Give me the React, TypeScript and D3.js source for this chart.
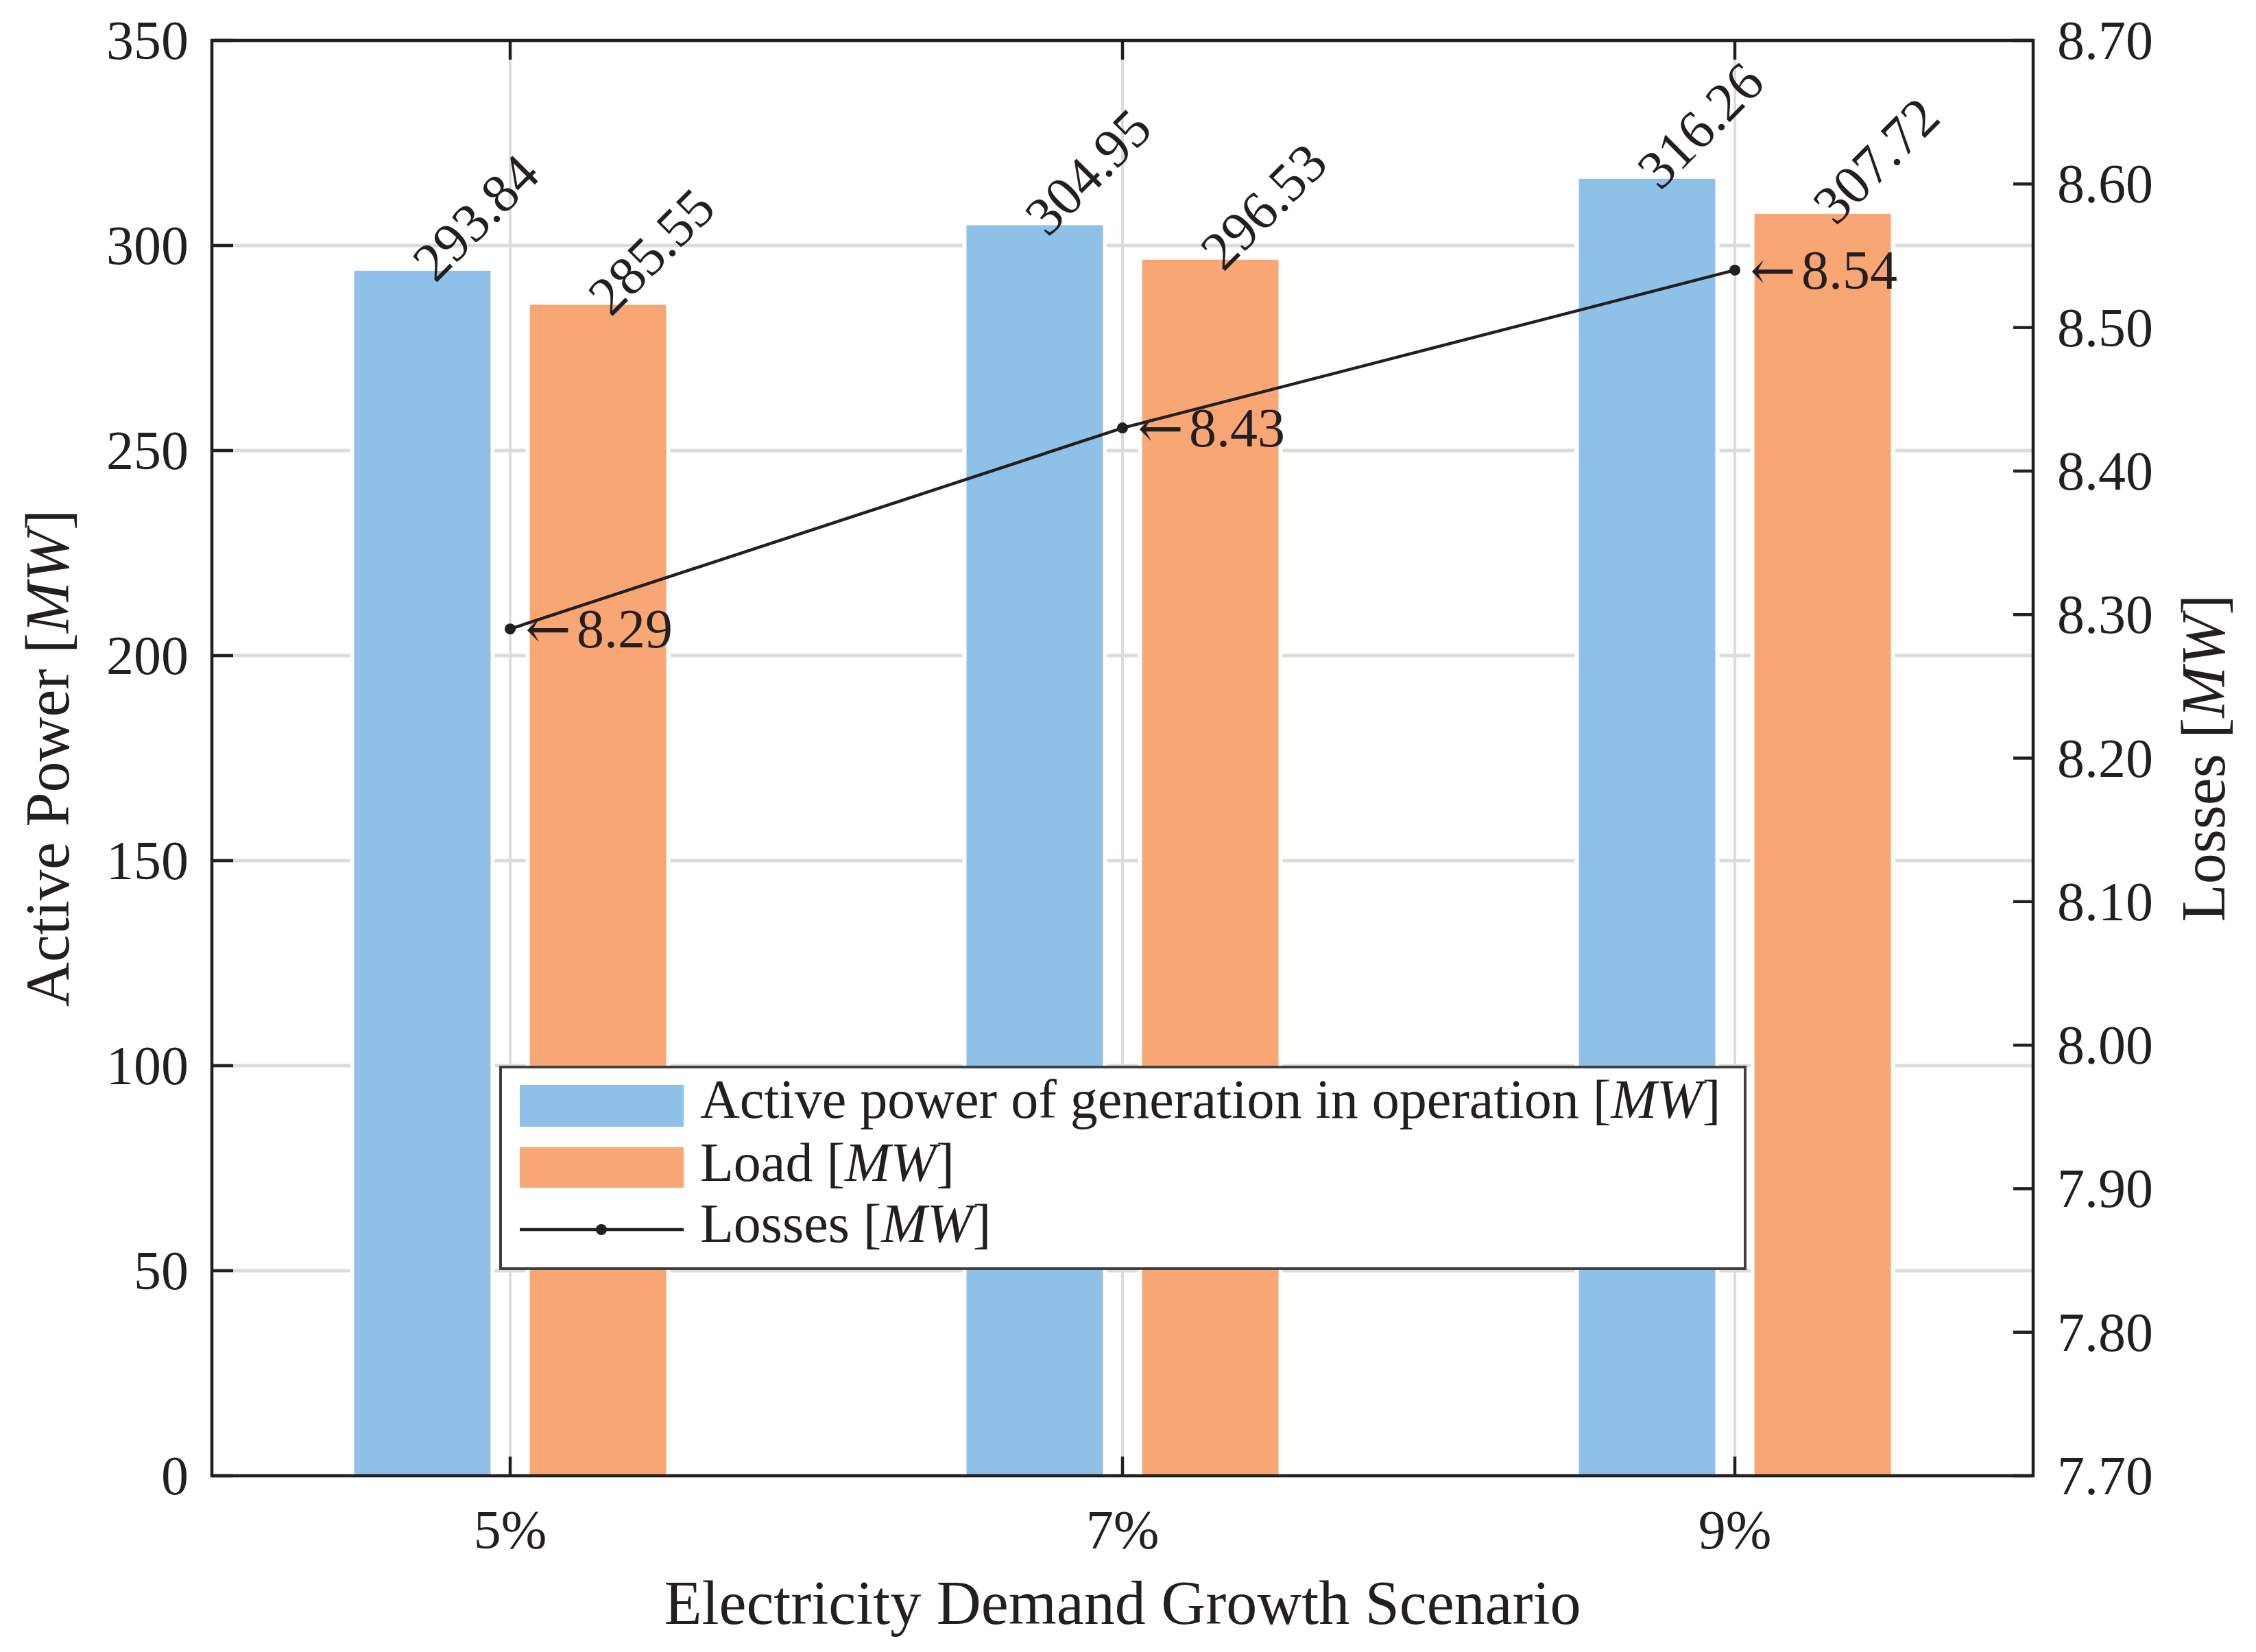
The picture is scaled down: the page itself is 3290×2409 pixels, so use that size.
import React from "react";
import * as d3 from "d3";

const categories = ["5%", "7%", "9%"];
const generation = [293.84, 304.95, 316.26];
const load = [285.55, 296.53, 307.72];
const losses = [8.29, 8.43, 8.54];
const leftTicks = [0, 50, 100, 150, 200, 250, 300, 350];
const rightTicks = [7.7, 7.8, 7.9, 8.0, 8.1, 8.2, 8.3, 8.4, 8.5, 8.6, 8.7];
const seriesNames = ["gen", "load"];
const legendLabels = ["Active power of generation in operation ", "Load ", "Losses "];

const W = 3290;
const H = 2409;
const L = 309;
const R = 2965;
const T = 59;
const B = 2152;
const FONT = "'Liberation Serif', 'Times New Roman', 'DejaVu Serif', serif";
const INK = "#231f20";
const BLUE = "#8fc1e8";
const ORANGE = "#f8a674";
const GRID = "#dcdcdc";

export default function App() {
  const x = d3.scalePoint<string>().domain(categories).range([744, 2530]);
  const sub = d3.scaleBand<string>().domain(seriesNames).range([-227.5, 227.5]).paddingInner(0.223);
  const yL = d3.scaleLinear().domain([0, 350]).range([B, T]);
  const yR = d3.scaleLinear().domain([7.7, 8.7]).range([B, T]);
  const bw = sub.bandwidth();
  const colors: Record<string, string> = { gen: BLUE, load: ORANGE };
  const vals: Record<string, number[]> = { gen: generation, load: load };

  const line = d3
    .line<number>()
    .x((_, i) => x(categories[i]) as number)
    .y((d) => yR(d));

  const halo = 6;

  return (
    <svg
      width={W}
      height={H}
      viewBox={`0 0 ${W} ${H}`}
      style={{ position: "absolute", left: 0, top: 0, background: "#fff" }}
      fontFamily={FONT}
    >
      <rect x={0} y={0} width={W} height={H} fill="#fff" />
      {/* gridlines */}
      {leftTicks.map((t) => (
        <line key={"gh" + t} x1={L} x2={R} y1={yL(t)} y2={yL(t)} stroke={GRID} strokeWidth={5} />
      ))}
      {categories.map((c) => (
        <line key={"gv" + c} x1={x(c)} x2={x(c)} y1={T} y2={B} stroke={GRID} strokeWidth={4} />
      ))}
      {/* bars */}
      {seriesNames.map((s) =>
        categories.map((c, i) => {
          const x0 = (x(c) as number) + (sub(s) as number);
          const y0 = yL(vals[s][i]);
          return (
            <g key={s + c}>
              <rect x={x0 - halo} y={y0 - halo} width={bw + 2 * halo} height={B - y0 + halo} fill="#fff" />
              <rect x={x0} y={y0} width={bw} height={B - y0} fill={colors[s]} />
            </g>
          );
        })
      )}
      {/* bar labels */}
      {seriesNames.map((s) =>
        categories.map((c, i) => {
          const cx = (x(c) as number) + (sub(s) as number) + bw / 2;
          const cy = yL(vals[s][i]);
          return (
            <text
              key={"bl" + s + c}
              transform={`translate(${cx},${cy}) rotate(-45)`}
              fontSize={80}
              fill={INK}
              dominantBaseline="central"
              textAnchor="start"
            >
              {vals[s][i].toFixed(2)}
            </text>
          );
        })
      )}
      {/* losses line */}
      <path d={line(losses) || ""} fill="none" stroke={INK} strokeWidth={4.5} />
      {losses.map((v, i) => (
        <circle key={"m" + i} cx={x(categories[i])} cy={yR(v)} r={8} fill={INK} />
      ))}
      {losses.map((v, i) => (
        <text
          key={"ll" + i}
          x={(x(categories[i]) as number) + 22}
          y={yR(v)}
          fontSize={80}
          fill={INK}
          dominantBaseline="central"
        >
          <tspan fontFamily="'DejaVu Serif', serif" fontWeight={300}>
            {"\u2190"}
          </tspan>
          <tspan dx={8}>{v.toFixed(2)}</tspan>
        </text>
      ))}
      {/* axes box */}
      <rect x={L} y={T} width={R - L} height={B - T} fill="none" stroke={INK} strokeWidth={4.5} />
      {leftTicks.map((t) => (
        <g key={"lt" + t}>
          <line x1={L} x2={L + 31} y1={yL(t)} y2={yL(t)} stroke={INK} strokeWidth={4.5} />
          <text x={275} y={yL(t)} fontSize={80} fill={INK} textAnchor="end" dominantBaseline="central">
            {t}
          </text>
        </g>
      ))}
      {rightTicks.map((t) => (
        <g key={"rt" + t}>
          <line x1={R - 29} x2={R} y1={yR(t)} y2={yR(t)} stroke={INK} strokeWidth={4.5} />
          <text x={3000} y={yR(t)} fontSize={80} fill={INK} textAnchor="start" dominantBaseline="central">
            {t.toFixed(2)}
          </text>
        </g>
      ))}
      {categories.map((c) => (
        <g key={"xt" + c}>
          <line x1={x(c)} x2={x(c)} y1={B} y2={B - 28} stroke={INK} strokeWidth={4.5} />
          <line x1={x(c)} x2={x(c)} y1={T} y2={T + 28} stroke={INK} strokeWidth={4.5} />
          <text x={x(c)} y={2258} fontSize={80} fill={INK} textAnchor="middle">
            {c}
          </text>
        </g>
      ))}
      {/* axis titles */}
      <text x={(L + R) / 2} y={2368} fontSize={90} fill={INK} textAnchor="middle">
        Electricity Demand Growth Scenario
      </text>
      <text transform={`translate(100,${(T + B) / 2}) rotate(-90)`} fontSize={90} fill={INK} textAnchor="middle">
        Active Power [<tspan fontStyle="italic">MW</tspan>]
      </text>
      <text transform={`translate(3244,${(T + B) / 2}) rotate(-90)`} fontSize={90} fill={INK} textAnchor="middle">
        Losses [<tspan fontStyle="italic">MW</tspan>]
      </text>
      {/* legend */}
      <rect x={730} y={1556} width={1815} height={294} fill="#fff" stroke="#404040" strokeWidth={4} />
      <rect x={758} y={1582} width={239} height={61} fill={BLUE} />
      <rect x={758} y={1673} width={239} height={59} fill={ORANGE} />
      <line x1={758} x2={997} y1={1793} y2={1793} stroke={INK} strokeWidth={4.5} />
      <circle cx={877} cy={1793} r={8} fill={INK} />
      {[1630, 1722, 1811].map((by, i) => (
        <text key={"lg" + i} x={1021} y={by} fontSize={80} fill={INK}>
          {legendLabels[i]}[<tspan fontStyle="italic">MW</tspan>]
        </text>
      ))}
    </svg>
  );
}
